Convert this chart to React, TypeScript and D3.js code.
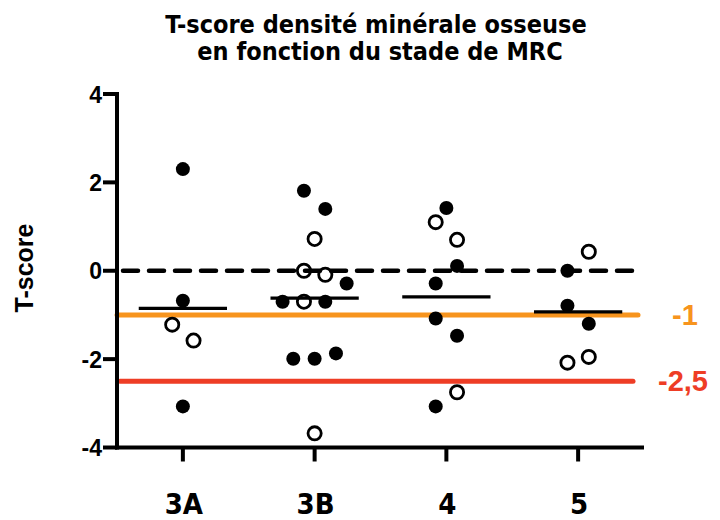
import React from "react";
import * as d3 from "d3";

const title1 = "T-score densité minérale osseuse";
const title2 = "en fonction du stade de MRC";
const yLabel = "T-score";
const categories = ["3A", "3B", "4", "5"];
const yTicks = [-4, -2, 0, 2, 4];

// values per stage
const values3A = [2.3, -0.68, -1.22, -1.58, -3.07];
const filled3A = [1, 1, 0, 0, 1];
const slot3A = [0, 0, -1, 1, 0];

const values3B = [1.81, 1.4, 0.72, 0.0, -0.09, -0.29, -0.7, -0.7, -0.7, -1.99, -1.99, -1.87, -3.68];
const filled3B = [1, 1, 0, 0, 0, 1, 1, 0, 1, 1, 1, 1, 0];
const slot3B = [-1, 1, 0, -1, 1, 3, -3, -1, 1, -2, 0, 2, 0];

const values4 = [1.42, 1.1, 0.7, 0.11, -0.29, -1.08, -1.47, -2.75, -3.07];
const filled4 = [1, 0, 0, 1, 1, 1, 1, 0, 1];
const slot4 = [0, -1, 1, 1, -1, -1, 1, 1, -1];

const values5 = [0.43, 0.0, -0.79, -1.2, -1.95, -2.08];
const filled5 = [0, 1, 1, 1, 0, 0];
const slot5 = [1, -1, -1, 1, 1, -1];

const refLines = [
  { value: -1, label: "-1", color: "#F7941D" },
  { value: -2.5, label: "-2,5", color: "#EE3D25" },
];

const groups = [
  { cat: "3A", values: values3A, filled: filled3A, slots: slot3A },
  { cat: "3B", values: values3B, filled: filled3B, slots: slot3B },
  { cat: "4", values: values4, filled: filled4, slots: slot4 },
  { cat: "5", values: values5, filled: filled5, slots: slot5 },
];

export default function App() {
  const W = 720;
  const H = 520;
  const x0 = 117;
  const x1 = 644;
  const x = d3.scalePoint<string>().domain(categories).range([x0, x1]).padding(0.5);
  const y = d3.scaleLinear().domain([-4, 4]).range([447.5, 94]);
  const jitter = d3.scaleLinear().domain([-1, 1]).range([-x.step() * 0.081, x.step() * 0.081]);
  const meanHalf = x.step() * 0.335;

  const titleFont = "'DejaVu Sans Condensed', 'DejaVu Sans', sans-serif";
  const numFont = "'Liberation Sans', Arial, sans-serif";

  return (
    <svg
      width={W}
      height={H}
      style={{ position: "fixed", top: 0, left: 0, display: "block", background: "#fff" }}
    >
      <text x={376} y={33} textAnchor="middle" fontFamily={titleFont} fontWeight="bold" fontSize={25}>
        {title1}
      </text>
      <text x={380} y={60} textAnchor="middle" fontFamily={titleFont} fontWeight="bold" fontSize={25}>
        {title2}
      </text>

      {/* y label */}
      <text
        transform={`translate(33, ${268}) rotate(-90)`}
        textAnchor="middle"
        fontFamily={numFont}
        fontWeight="bold"
        fontSize={25}
      >
        {yLabel}
      </text>

      {/* reference lines */}
      <line
        x1={x0 + 6}
        x2={x1 - 3}
        y1={y(0)}
        y2={y(0)}
        stroke="#000"
        strokeWidth={4.5}
        strokeDasharray="15 11"
        strokeLinecap="round"
      />
      {refLines.map((r, i) => (
        <g key={r.label}>
          <line
            x1={x0 + (i === 0 ? 0 : 3)}
            x2={x1 - (i === 0 ? 6 : 11)}
            y1={y(r.value)}
            y2={y(r.value)}
            stroke={r.color}
            strokeWidth={5}
            strokeLinecap="round"
          />
          <text
            x={i === 0 ? 672 : 658}
            y={y(r.value) + 10}
            fill={r.color}
            fontFamily={numFont}
            fontWeight="bold"
            fontSize={29}
          >
            {r.label}
          </text>
        </g>
      ))}

      {/* mean lines */}
      {groups.map((g) => {
        const m = d3.mean(g.values) as number;
        const cx = x(g.cat) as number;
        return (
          <line
            key={"m" + g.cat}
            x1={cx - meanHalf}
            x2={cx + meanHalf}
            y1={y(m)}
            y2={y(m)}
            stroke="#000"
            strokeWidth={3.2}
          />
        );
      })}

      {/* points */}
      {groups.map((g) =>
        g.values.map((v, i) => {
          const cx = (x(g.cat) as number) + jitter(g.slots[i]);
          const cy = y(v);
          return g.filled[i] ? (
            <circle key={g.cat + i} cx={cx} cy={cy} r={7} fill="#000" />
          ) : (
            <circle key={g.cat + i} cx={cx} cy={cy} r={6.6} fill="none" stroke="#000" strokeWidth={2.8} />
          );
        })
      )}

      {/* axes */}
      <line x1={x0} x2={x0} y1={y(4) - 2} y2={y(-4) + 2} stroke="#000" strokeWidth={4} />
      <line x1={x0 - 2} x2={x1} y1={y(-4)} y2={y(-4)} stroke="#000" strokeWidth={4} />
      {yTicks.map((t) => (
        <g key={"yt" + t}>
          <line x1={x0 - 14} x2={x0} y1={y(t)} y2={y(t)} stroke="#000" strokeWidth={4} />
          <text
            x={102}
            y={y(t) + 8.5}
            textAnchor="end"
            fontFamily={numFont}
            fontWeight="bold"
            fontSize={23}
          >
            {t}
          </text>
        </g>
      ))}
      {categories.map((c) => (
        <g key={"xt" + c}>
          <line
            x1={x(c) as number}
            x2={x(c) as number}
            y1={y(-4)}
            y2={y(-4) + 14}
            stroke="#000"
            strokeWidth={4}
          />
          <text
            x={(x(c) as number) + 1}
            y={514}
            textAnchor="middle"
            fontFamily={titleFont}
            fontWeight="bold"
            fontSize={29}
          >
            {c}
          </text>
        </g>
      ))}
    </svg>
  );
}
